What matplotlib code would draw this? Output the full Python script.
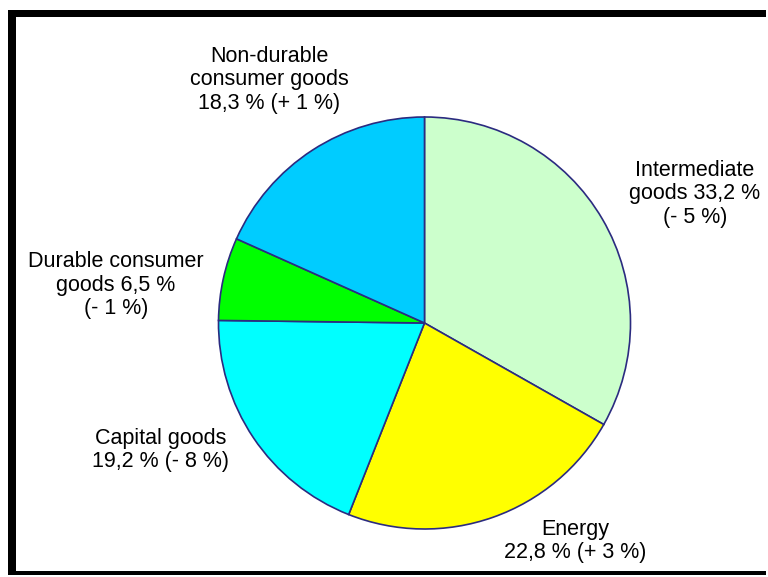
import matplotlib
matplotlib.use("Agg")
from matplotlib import pyplot as plt
from matplotlib.patches import Rectangle

# Share of each product group with change in brackets
categories = ["Intermediate goods", "Energy", "Capital goods",
              "Durable consumer goods", "Non-durable consumer goods"]
shares = [33.2, 22.8, 19.2, 6.5, 18.3]
labels = ["Intermediate\ngoods 33,2 %\n(- 5 %)",
          "Energy\n22,8 % (+ 3 %)",
          "Capital goods\n19,2 % (- 8 %)",
          "Durable consumer\ngoods 6,5 %\n(- 1 %)",
          "Non-durable\nconsumer goods\n18,3 % (+ 1 %)"]
colors = ["#CCFFCC", "#FFFF00", "#00FFFF", "#00FF00", "#00CCFF"]

W, H = 768, 577
fig = plt.figure(figsize=(W / 100, H / 100), dpi=100)
ax = fig.add_axes([0, 0, 1, 1])

# black frame around the chart (pixel coordinates, y measured from the top)
ax.add_patch(Rectangle((8, H - 575), 758, 565, facecolor="black", edgecolor="none", zorder=0))
ax.add_patch(Rectangle((16, H - 571), 760, 554, facecolor="white", edgecolor="none", zorder=0))

ax.pie(shares, colors=colors, startangle=90, counterclock=False,
       center=(424.5, H - 323), radius=206,
       wedgeprops=dict(edgecolor="#2B2B80", linewidth=1.2))

ax.set_xlim(0, W)
ax.set_ylim(0, H)
ax.set_aspect("auto")
ax.axis("off")

# label positions: (x, y from top) of each text block centre
label_pos = [(695, 194), (575, 541), (161, 450), (116, 285), (269, 80)]
for text, (x, y) in zip(labels, label_pos):
    ax.text(x, H - y, text, ha="center", va="center", fontsize=15.5,
            family="Liberation Sans", linespacing=1.17, color="black")

fig.savefig("out.png", dpi=100, facecolor="white")
